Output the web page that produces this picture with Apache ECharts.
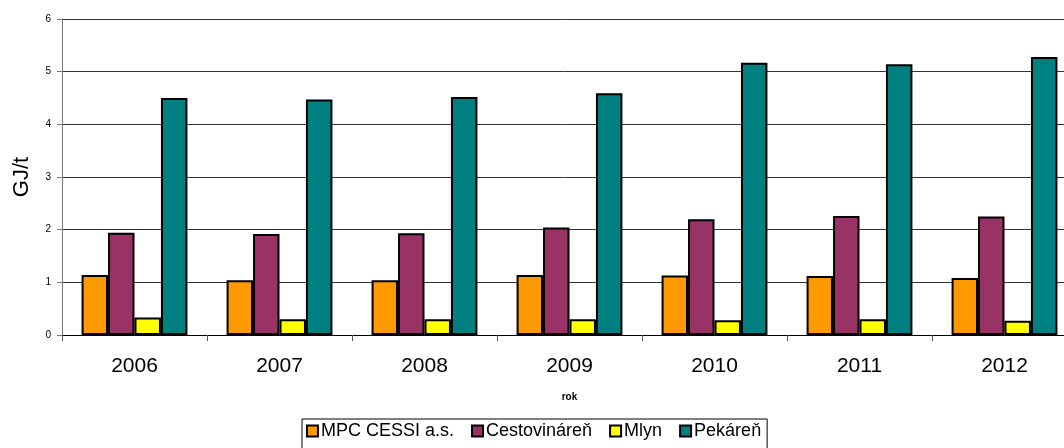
<!DOCTYPE html>
<html><head><meta charset="utf-8">
<script src="https://cdn.jsdelivr.net/npm/echarts@6/dist/echarts.min.js"></script>
<style>html,body{margin:0;padding:0;background:#fff}#c{width:1064px;height:448px}</style>
</head><body><div id="c"></div>
<script>
const categories = ['2006','2007','2008','2009','2010','2011','2012'];
const seriesNames = ['MPC CESSI a.s.','Cestovináreň','Mlyn','Pekáreň'];
const mpc = [1.14, 1.04, 1.04, 1.14, 1.13, 1.12, 1.08];
const cestovinaren = [1.94, 1.92, 1.93, 2.04, 2.20, 2.26, 2.25];
const mlyn = [0.33, 0.30, 0.30, 0.30, 0.28, 0.30, 0.27];
const pekaren = [4.50, 4.47, 4.52, 4.59, 5.17, 5.14, 5.28];
const colors = ['#FF9900', '#993366', '#FFFF00', '#008080'];
const yTicks = [0,1,2,3,4,5,6];

const values = [mpc, cestovinaren, mlyn, pekaren];
const chart = echarts.init(document.getElementById('c'));
chart.setOption({
  animation: false,
  textStyle: { fontFamily: 'Liberation Sans, Arial, sans-serif' },
  grid: { left: 62, top: 19, width: 1015, height: 316, containLabel: false, outerBoundsMode: 'none' },
  legend: {
    left: 302, top: 419,
    icon: 'rect', itemWidth: 11, itemHeight: 11, itemGap: 17,
    borderColor: '#000', borderWidth: 1, padding: [3, 6, 12, 4],
    itemStyle: { borderColor: '#000', borderWidth: 2 },
    textStyle: { fontSize: 18, color: '#000', padding: [0, 0, 0, -2] },
    data: seriesNames
  },
  xAxis: {
    type: 'category', data: categories,
    name: 'rok', nameLocation: 'middle', nameGap: 57,
    nameTextStyle: { fontSize: 10, fontWeight: 'bold', color: '#000' },
    axisLine: { lineStyle: { color: '#000', width: 1 } },
    axisTick: { show: true, length: 6, lineStyle: { color: '#555' } },
    axisLabel: { fontSize: 21, color: '#000', margin: 21 }
  },
  yAxis: {
    type: 'value', min: 0, max: 6, interval: 1,
    name: 'GJ/t', nameLocation: 'middle', nameGap: 29,
    nameTextStyle: { fontSize: 22, color: '#000' },
    axisLine: { show: true, lineStyle: { color: '#777' } },
    axisTick: { show: true, length: 5, lineStyle: { color: '#777' } },
    axisLabel: { fontSize: 10, color: '#000', margin: 11,
      formatter: v => yTicks.includes(v) ? String(v) : '' },
    splitLine: { show: true, lineStyle: { color: '#333', width: 1 } }
  },
  series: seriesNames.map((n, i) => ({
    name: n, type: 'bar', data: values[i],
    barGap: '0%', barCategoryGap: '27%',
    itemStyle: { color: colors[i], borderColor: '#000', borderWidth: 2 }
  }))
});
</script></body></html>
